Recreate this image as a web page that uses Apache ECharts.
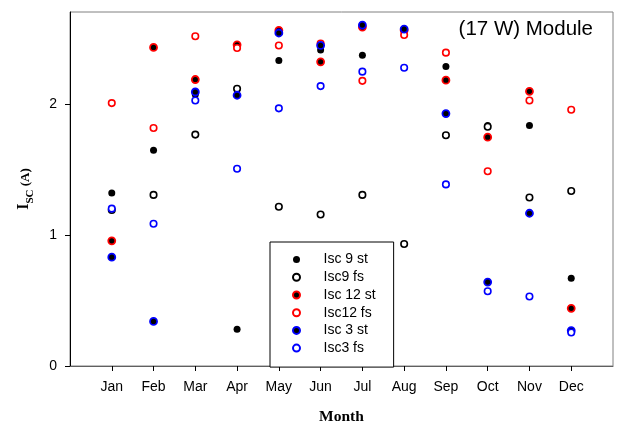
<!DOCTYPE html>
<html><head><meta charset="utf-8">
<script src="https://cdn.jsdelivr.net/npm/echarts@6/dist/echarts.min.js"></script>
<style>html,body{margin:0;padding:0;background:#fff}#c{width:617px;height:430px}</style>
</head><body><div id="c"></div>
<script>
const months = ['Jan','Feb','Mar','Apr','May','Jun','Jul','Aug','Sep','Oct','Nov','Dec'];
const monthPos = [1,2,3,4,5,6,7,8,9,10,11,12];
const yTicks = [0,1,2];
const isc9st  = [1.32,1.645,2.07,0.28,2.33,2.41,2.37,2.565,2.285,1.835,1.835,0.67];
const isc9fs  = [1.19,1.305,1.765,2.115,1.215,1.155,1.305,0.93,1.76,1.825,1.285,1.335];
const isc12st = [0.955,2.43,2.185,2.45,2.56,2.32,2.585,2.56,2.18,1.745,2.095,0.44];
const isc12fs = [2.005,1.815,2.515,2.425,2.445,2.46,2.175,2.525,2.39,1.485,2.025,1.955];
const isc3st  = [0.83,0.34,2.09,2.065,2.54,2.445,2.6,2.57,1.925,0.64,1.165,0.27];
const isc3fs  = [1.2,1.085,2.025,1.505,1.965,2.135,2.245,2.275,1.385,0.57,0.53,0.255];

function pts(vals){ return vals.map((v,i)=>[monthPos[i], v]); }
function filled(name, vals, border){
  return {name, type:'scatter', data:pts(vals), symbol:'circle', symbolSize:7,
    itemStyle:{color:'#000', opacity:1, borderColor:border, borderWidth: border==='#000'?0:1.8}};
}
function open(name, vals, border){
  return {name, type:'scatter', data:pts(vals), symbol:'circle', symbolSize:6.5,
    itemStyle:{color:'#fff', opacity:1, borderColor:border, borderWidth:1.6}};
}
const chart = echarts.init(document.getElementById('c'), null, {renderer:'canvas'});
chart.setOption({
  animation:false,
  grid:{left:70, right:4, top:12, bottom:59, show:true, borderColor:'#808080', borderWidth:1},
  title:{text:'(17 W) Module', right:19, top:14, textStyle:{fontFamily:'Arial, Liberation Sans', fontSize:20.5, fontWeight:'normal', color:'#000'}},
  xAxis:{type:'value', min:0, max:13, interval:1,
    name:'Month', nameLocation:'middle', nameGap:43,
    nameTextStyle:{fontFamily:'Times New Roman, Liberation Serif', fontWeight:'bold', fontSize:15.5, color:'#000'},
    axisLine:{show:true, lineStyle:{color:'#606060', width:1}},
    axisTick:{show:true, length:5, customValues:monthPos, lineStyle:{color:'#000'}},
    axisLabel:{customValues:monthPos, margin:14, fontFamily:'Arial, Liberation Sans', fontSize:14, color:'#000',
      formatter:v=>months[Math.round(v)-1]||''},
    splitLine:{show:false}},
  yAxis:{type:'value', min:0, max:2.7, interval:1,
    name:'{i|I}{s|SC}{a| (A)}', nameLocation:'middle', nameRotate:90, nameGap:34,
    nameTextStyle:{fontFamily:'Times New Roman, Liberation Serif', fontWeight:'bold', color:'#000',
      rich:{i:{fontSize:16, fontWeight:'bold', fontFamily:'Times New Roman, Liberation Serif', verticalAlign:'top', lineHeight:20},
            s:{fontSize:11, fontWeight:'bold', fontFamily:'Times New Roman, Liberation Serif', verticalAlign:'bottom', lineHeight:20, padding:[6,0,0,0]},
            a:{fontSize:13, fontWeight:'bold', fontFamily:'Times New Roman, Liberation Serif', lineHeight:20}}},
    axisLine:{show:true, lineStyle:{color:'#000', width:1}},
    axisTick:{show:true, length:5, customValues:yTicks, lineStyle:{color:'#000'}},
    axisLabel:{customValues:yTicks, margin:13, fontFamily:'Arial, Liberation Sans', fontSize:14, color:'#000'},
    splitLine:{show:false}},
  legend:{orient:'vertical', left:270, top:242, padding:[10.6,18,12,22],
    borderColor:'#000', borderWidth:1, backgroundColor:'#fff',
    itemWidth:44, itemHeight:7, itemGap:3.7,
    textStyle:{fontFamily:'Arial, Liberation Sans', fontSize:14, lineHeight:14, color:'#000'},
    data:['Isc 9 st','Isc9 fs','Isc 12 st','Isc12 fs','Isc 3 st','Isc3 fs']},
  series:[
    filled('Isc 9 st', isc9st, '#000'),
    open('Isc9 fs', isc9fs, '#000'),
    filled('Isc 12 st', isc12st, '#ff0000'),
    open('Isc12 fs', isc12fs, '#ff0000'),
    filled('Isc 3 st', isc3st, '#0000ff'),
    open('Isc3 fs', isc3fs, '#0000ff')
  ]
});
</script></body></html>
